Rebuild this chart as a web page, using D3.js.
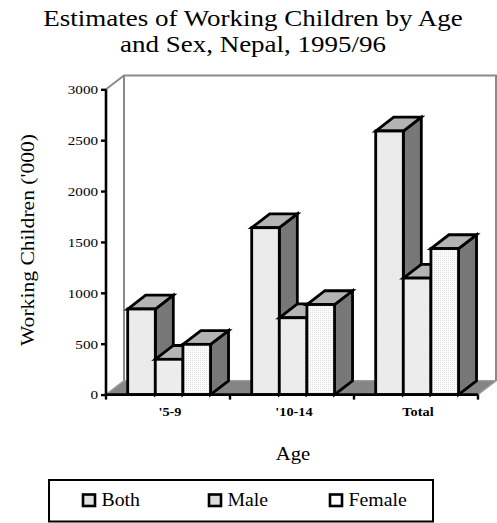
<!DOCTYPE html>
<html>
<head>
<meta charset="utf-8">
<script src="https://cdn.jsdelivr.net/npm/d3@7"></script>
<style>
  html, body { margin: 0; padding: 0; background: #fff; }
  svg { display: block; }
  svg text { font-family: "Liberation Serif", "Times New Roman", Times, "DejaVu Serif", serif; }
</style>
</head>
<body>
<svg id="chart" width="497" height="523"></svg>
<script>
// Working children estimates ('000), Nepal 1995/96
const categories = ["'5-9", "'10-14", "Total"];
const seriesNames = ["Both", "Male", "Female"];
const bothValues = [841, 1640, 2590];
const maleValues = [347, 755, 1145];
const femaleValues = [494, 885, 1435];
const yTickValues = [0, 500, 1000, 1500, 2000, 2500, 3000];

const seriesValues = [bothValues, maleValues, femaleValues];
const FONT = "'Liberation Serif', 'Times New Roman', Times, 'DejaVu Serif', serif";

const svg = d3.select("#chart");
const defs = svg.append("defs");

// set type slightly wide: scale horizontally about the text's own anchor point
function widen(sel, sx) {
  sel.each(function () {
    const el = d3.select(this);
    const x = +el.attr("x") || 0, y = +el.attr("y") || 0;
    const prev = el.attr("transform") || "";
    el.attr("transform", `${prev} translate(${x},${y}) scale(${sx},1) translate(${-x},${-y})`);
  });
  return sel;
}

// fill textures for the front faces
function hatch(id, bg, fg, dir) {
  const p = defs.append("pattern").attr("id", id).attr("patternUnits", "userSpaceOnUse")
    .attr("width", 3).attr("height", 3);
  p.append("rect").attr("width", 3).attr("height", 3).attr("fill", bg);
  p.append("path").attr("d", dir > 0 ? "M0,3 L3,0" : "M0,0 L3,3")
    .attr("stroke", fg).attr("stroke-width", 0.6);
}
hatch("fillBoth", "#eeeeee", "#dedede", 1);
hatch("fillMale", "#f0f0f0", "#dddddd", -1);
const dots = defs.append("pattern").attr("id", "fillFemale").attr("patternUnits", "userSpaceOnUse")
  .attr("width", 2).attr("height", 2);
dots.append("rect").attr("width", 2).attr("height", 2).attr("fill", "#fbfbfb");
dots.append("rect").attr("width", 1).attr("height", 1).attr("fill", "#e2e2e2");
const sideTex = defs.append("pattern").attr("id", "sideTex").attr("patternUnits", "userSpaceOnUse")
  .attr("width", 2).attr("height", 2);
sideTex.append("rect").attr("width", 2).attr("height", 2).attr("fill", "#7a7a7a");
sideTex.append("rect").attr("width", 1).attr("height", 1).attr("fill", "#707070");

const fills = ["url(#fillBoth)", "url(#fillMale)", "url(#fillFemale)"];
const legendFills = ["#e2e2e2", "#dcdcdc", "#ffffff"];

// geometry of the 3D plot box
const x0Left = 106, x0Right = 478;
const yBottom = 394.6, yTop = 89.3;
const DX = 18, DY = -13.8;

const y = d3.scaleLinear().domain([0, 3000]).range([yBottom, yTop]);
const x0 = d3.scaleBand().domain(categories).range([x0Left, x0Right]).padding(0);
const bw = x0.bandwidth();
const x1 = d3.scaleBand().domain(seriesNames).range([bw * 0.175, bw * 0.843]).padding(0);

// title
const titleLines = ["Estimates of Working Children by Age", "and Sex, Nepal, 1995/96"];
svg.selectAll("text.title").data(titleLines).join("text").attr("class", "title")
  .attr("x", 253).attr("y", (d, i) => 26 + i * 26)
  .attr("text-anchor", "middle").attr("font-size", 22.5).attr("font-family", FONT).attr("fill", "#000")
  .text(d => d)
  .call(widen, 1.2);

// back wall outline
svg.append("path")
  .attr("d", `M${x0Left + DX},${yBottom + DY} V${yTop + DY} H${x0Right + DX} V${yBottom + DY}`)
  .attr("fill", "#fff").attr("stroke", "#8a8a8a").attr("stroke-width", 2);
// left wall top edge
svg.append("line")
  .attr("x1", x0Left).attr("y1", yTop).attr("x2", x0Left + DX).attr("y2", yTop + DY)
  .attr("stroke", "#8a8a8a").attr("stroke-width", 2);

// floor
svg.append("path")
  .attr("d", `M${x0Left},${yBottom} L${x0Right},${yBottom} L${x0Right + DX},${yBottom + DY} L${x0Left + DX},${yBottom + DY} Z`)
  .attr("fill", "#858585").attr("stroke", "#9a9a9a").attr("stroke-width", 1.5);

// bars: drawn left to right so each bar hides the side of its neighbour
const bars = [];
categories.forEach((c, ci) => {
  seriesNames.forEach((s, si) => {
    bars.push({ cat: c, series: s, si, value: seriesValues[si][ci] });
  });
});

const barG = svg.append("g").attr("stroke", "#000").attr("stroke-width", 2.8).attr("stroke-linejoin", "miter");
bars.forEach(d => {
  const xl = x0(d.cat) + x1(d.series);
  const xr = xl + x1.bandwidth();
  const yt = y(d.value);
  const g = barG.append("g");
  // side face
  g.append("path")
    .attr("d", `M${xr},${yBottom} L${xr},${yt} L${xr + DX},${yt + DY} L${xr + DX},${yBottom + DY} Z`)
    .attr("fill", "url(#sideTex)");
  // top face
  g.append("path")
    .attr("d", `M${xl},${yt} L${xl + DX},${yt + DY} L${xr + DX},${yt + DY} L${xr},${yt} Z`)
    .attr("fill", "#b4b4b4");
  // front face
  g.append("rect")
    .attr("x", xl).attr("y", yt).attr("width", xr - xl).attr("height", yBottom - yt)
    .attr("fill", fills[d.si]);
});

// value axis
const yAxis = d3.axisLeft(y).tickValues(yTickValues).tickSize(5).tickPadding(3).tickFormat(d3.format("d"));
const yAxisG = svg.append("g").attr("transform", `translate(${x0Left},0)`).call(yAxis)
  .attr("font-family", FONT).attr("font-size", 13.5);
yAxisG.select(".domain").attr("stroke", "#000").attr("stroke-width", 2.6).attr("d", `M0,${yTop}V${yBottom}`);
yAxisG.selectAll(".tick line").attr("stroke", "#000").attr("stroke-width", 2.4);
yAxisG.selectAll(".tick text").attr("font-family", FONT).attr("font-size", 13.5).attr("fill", "#000")
  .call(widen, 1.12);

// category axis
const xAxisG = svg.append("g").attr("transform", `translate(0,${yBottom})`);
xAxisG.append("line").attr("x1", x0Left).attr("x2", x0Right).attr("y1", 0).attr("y2", 0)
  .attr("stroke", "#000").attr("stroke-width", 2.6);
const boundaries = [x0Left].concat(categories.map(c => x0(c) + bw));
xAxisG.selectAll("line.tick").data(boundaries).join("line").attr("class", "tick")
  .attr("x1", d => d).attr("x2", d => d).attr("y1", 0).attr("y2", 5)
  .attr("stroke", "#000").attr("stroke-width", 2.4);
xAxisG.selectAll("text").data(categories).join("text")
  .attr("x", d => x0(d) + bw / 2 + 2).attr("y", 21.5)
  .attr("text-anchor", "middle").attr("font-family", FONT).attr("font-size", 13)
  .attr("font-weight", "bold").text(d => d)
  .call(widen, 1.1);

// axis titles
svg.append("text").attr("x", 293).attr("y", 460.5).attr("text-anchor", "middle")
  .attr("font-family", FONT).attr("font-size", 18).text("Age")
  .call(widen, 1.15);
svg.append("text").attr("transform", "translate(34,240) rotate(-90)")
  .attr("text-anchor", "middle").attr("font-family", FONT).attr("font-size", 18).text("Working Children ('000)")
  .call(widen, 1.2);

// legend
svg.append("rect").attr("x", 49).attr("y", 480).attr("width", 384).attr("height", 41.5)
  .attr("fill", "#fff").attr("stroke", "#000").attr("stroke-width", 2);
const legendX = [82, 208, 329];
const legend = svg.selectAll("g.legend").data(seriesNames).join("g").attr("class", "legend")
  .attr("transform", (d, i) => `translate(${legendX[i]},493)`);
legend.append("rect").attr("x", 1).attr("y", 1.5).attr("width", 12).attr("height", 11.5)
  .attr("fill", (d, i) => legendFills[i]).attr("stroke", "#000").attr("stroke-width", 2.6);
legend.append("text").attr("x", 19.5).attr("y", 13).attr("font-family", FONT).attr("font-size", 18).text(d => d)
  .call(widen, 1.1);
</script>
</body>
</html>
